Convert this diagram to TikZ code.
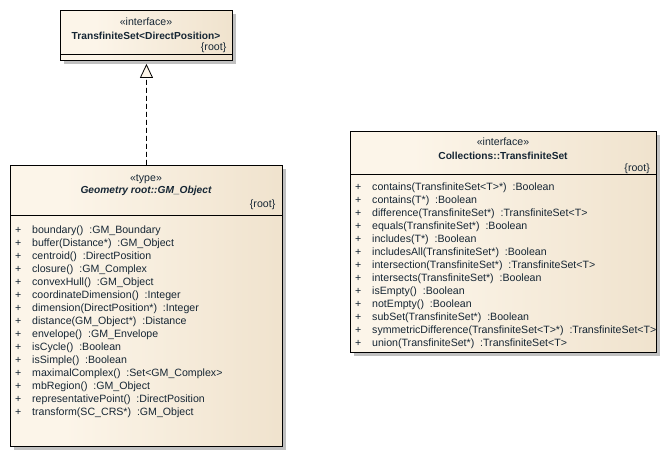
\documentclass[tikz,border=0pt]{standalone}
\usepackage{fontspec}
\setmainfont{Liberation Sans}
\usetikzlibrary{arrows.meta,shadows}
\definecolor{cream}{RGB}{252,245,233}
\definecolor{tanc}{RGB}{232,215,188}
\definecolor{shad}{RGB}{192,192,192}
\definecolor{inkc}{RGB}{22,38,52}
\pgfdeclarehorizontalshading{umlfill}{100bp}{color(0bp)=(cream); color(35bp)=(cream); color(100bp)=(tanc)}
\tikzset{
  classbox/.style={draw=black, line width=0.9bp, shading=umlfill, rectangle, inner sep=0pt,
    anchor=north west, general shadow={fill=shad, shadow xshift=3.5bp, shadow yshift=-3.5bp}},
  umltext/.style={inner sep=0pt, text=inkc, font=\fontsize{10.6bp}{12bp}\selectfont},
  umlbold/.style={inner sep=0pt, text=inkc, font=\fontsize{10.2bp}{12bp}\selectfont\bfseries},
  sepline/.style={draw=black, line width=0.9bp},
  realize/.style={dash pattern=on 5bp off 3bp, line width=0.8bp,
    -{Triangle[open, fill=cream, length=14bp, width=13bp, line width=0.8bp]}, shorten >=3bp}
}
\begin{document}
\begin{tikzpicture}[x=1bp,y=-1bp]
\useasboundingbox (0,0) rectangle (667,476);
% --- TransfiniteSet<DirectPosition>
\node[classbox, minimum width=172bp, minimum height=50bp] (tfs) at (60,10) {};
\draw[sepline] ([yshift=-44bp]tfs.north west) -- ([yshift=-44bp]tfs.north east);
\node[umltext, anchor=base] (tfsst) at (146,25.8) {«interface»};
\node[umlbold, anchor=base] (tfsname) at (146,39.8) {TransfiniteSet<DirectPosition>};
\node[umltext, anchor=base east] (tfsroot) at (226.5,50.8) {\{root\}};
% --- GM_Object
\node[classbox, minimum width=272bp, minimum height=281bp] (gm) at (10,165) {};
\draw[sepline] ([yshift=-50bp]gm.north west) -- ([yshift=-50bp]gm.north east);
\node[umltext, anchor=base] (gmst) at (146,181.8) {«type»};
\node[umlbold, anchor=base, font=\fontsize{10.2bp}{12bp}\selectfont\bfseries\itshape] (gmname) at (146,193.8) {Geometry root::GM\_Object};
\node[umltext, anchor=base east] (gmroot) at (275.5,207.8) {\{root\}};
\foreach \t [count=\i from 0] in {
  boundary()~ :GM\_Boundary,
  buffer(Distance*)~ :GM\_Object,
  centroid()~ :DirectPosition,
  closure()~ :GM\_Complex,
  convexHull()~ :GM\_Object,
  coordinateDimension()~ :Integer,
  dimension(DirectPosition*)~ :Integer,
  distance(GM\_Object*)~ :Distance,
  envelope()~ :GM\_Envelope,
  isCycle()~ :Boolean,
  isSimple()~ :Boolean,
  maximalComplex()~ :Set<GM\_Complex>,
  mbRegion()~ :GM\_Object,
  representativePoint()~ :DirectPosition,
  transform(SC\_CRS*)~ :GM\_Object}
{
  \node[umltext, anchor=base] (gmp\i) at (18.3,233.8+13*\i) {+};
  \node[umltext, anchor=base west] (gmo\i) at (32,233.8+13*\i) {\t};
}
% --- Collections::TransfiniteSet
\node[classbox, minimum width=306bp, minimum height=221bp] (ts) at (350,131) {};
\draw[sepline] ([yshift=-43bp]ts.north west) -- ([yshift=-43bp]ts.north east);
\node[umltext, anchor=base] (tsst) at (503,145.3) {«interface»};
\node[umlbold, anchor=base] (tsname) at (503,159.3) {Collections::TransfiniteSet};
\node[umltext, anchor=base east] (tsroot) at (650,171.8) {\{root\}};
\begin{scope}
\clip (ts.north west) rectangle ([xshift=-0.5bp]ts.south east);
\foreach \t [count=\i from 0] in {
  contains(TransfiniteSet<T>*)~ :Boolean,
  contains(T*)~ :Boolean,
  difference(TransfiniteSet*)~ :TransfiniteSet<T>,
  equals(TransfiniteSet*)~ :Boolean,
  includes(T*)~ :Boolean,
  includesAll(TransfiniteSet*)~ :Boolean,
  intersection(TransfiniteSet*)~ :TransfiniteSet<T>,
  intersects(TransfiniteSet*)~ :Boolean,
  isEmpty()~ :Boolean,
  notEmpty()~ :Boolean,
  subSet(TransfiniteSet*)~ :Boolean,
  symmetricDifference(TransfiniteSet<T>*)~ :TransfiniteSet<T>,
  union(TransfiniteSet*)~ :TransfiniteSet<T>}
{
  \node[umltext, anchor=base] (tsp\i) at (358.3,190.3+13*\i) {+};
  \node[umltext, anchor=base west] (tso\i) at (372,190.3+13*\i) {\t};
}
\end{scope}
% --- realization
\draw[realize] (gm.north) -- (tfs.south);
\end{tikzpicture}
\end{document}
